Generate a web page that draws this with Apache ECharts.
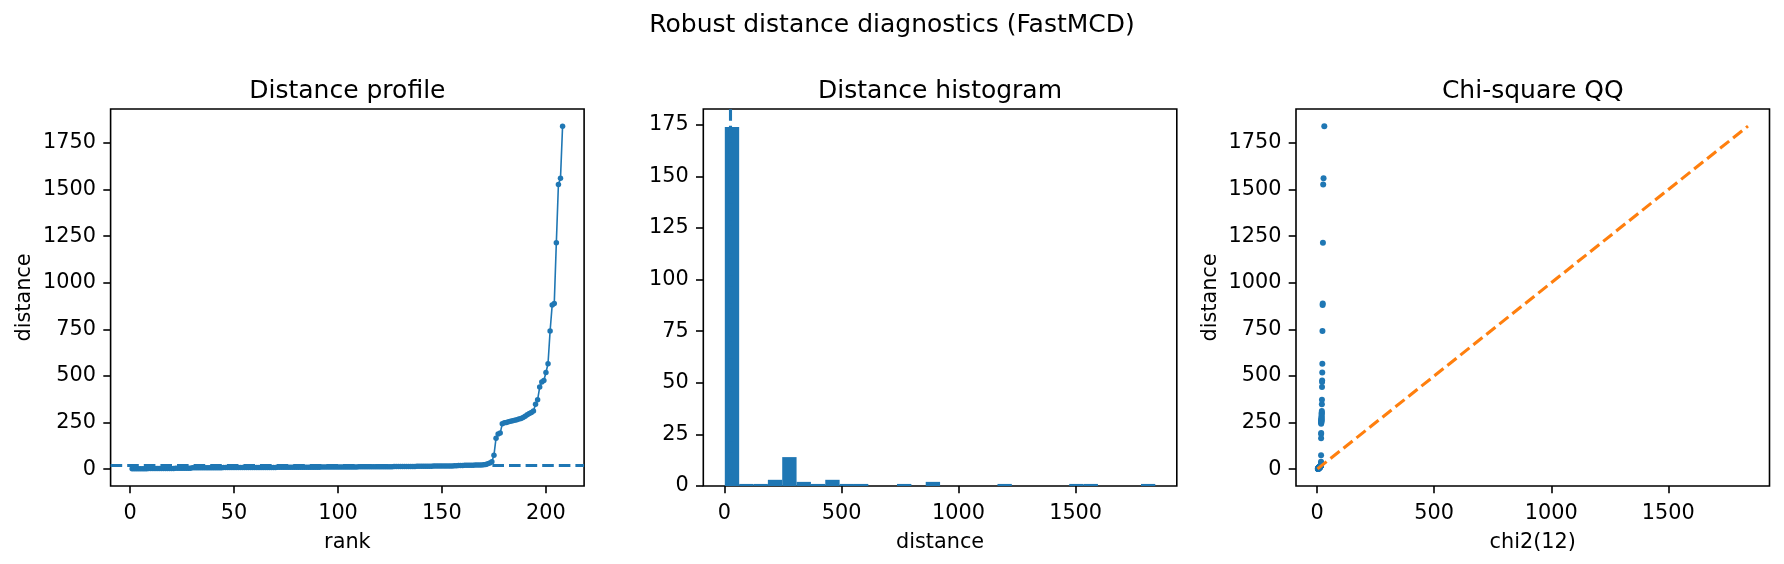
<!DOCTYPE html>
<html>
<head>
<meta charset="utf-8">
<script src="https://cdn.jsdelivr.net/npm/echarts@6/dist/echarts.min.js"></script>
<style>
  html, body { margin: 0; padding: 0; background: #fff; }
  #chart { width: 1784px; height: 564px; }
</style>
</head>
<body>
<div id="chart"></div>
<script>
// sorted robust distances (FastMCD), one per rank
const distances = [
  1.5, 1.8, 2.0, 2.2, 2.3, 2.5, 2.6, 2.8, 2.9, 3.0,
  3.1, 3.2, 3.3, 3.4, 3.5, 3.6, 3.7, 3.8, 3.9, 4.0,
  4.1, 4.2, 4.3, 4.4, 4.5, 4.7, 4.8, 5.0, 5.2,
  7.4, 7.5, 7.5, 7.6, 7.6, 7.7, 7.7, 7.8, 7.8, 7.9,
  7.9, 8.0, 8.0, 8.1, 8.1, 8.2, 8.2, 8.3, 8.3, 8.4,
  8.4, 8.5, 8.5, 8.6, 8.6, 8.7, 8.8, 8.8, 8.9, 8.9,
  9.0, 9.0, 9.1, 9.1, 9.2, 9.3, 9.3, 9.4, 9.4, 9.5,
  9.5, 9.6, 9.7, 9.7, 9.8, 9.8, 9.9, 10.0, 10.0, 10.1,
  10.1, 10.2, 10.3, 10.3, 10.4, 10.4, 10.5, 10.6, 10.6, 10.7,
  10.7, 10.8, 10.9, 10.9, 11.0, 11.0, 11.1, 11.2, 11.2, 11.3,
  11.3, 11.4, 11.4, 11.5, 11.5, 11.6,
  12.0, 12.1, 12.2, 12.2, 12.3, 12.4, 12.5, 12.5, 12.6, 12.7,
  12.8, 12.8, 12.9, 13.0, 13.1, 13.1, 13.2, 13.3, 13.4, 13.4,
  13.5, 13.6, 13.7, 13.7, 13.8, 13.9, 14.0, 14.1, 14.1, 14.2,
  14.3, 14.5,
  15.2, 15.3, 15.5, 15.6, 15.7, 15.9, 16.0, 16.1, 16.3, 16.4,
  16.5, 16.7, 16.8, 16.9, 17.0, 17.2, 17.3, 17.4, 17.6, 17.8,
  19.5, 19.8, 20.1, 20.4, 20.6, 20.9, 21.2, 21.5, 21.8, 22.1,
  22.4, 22.8, 23.3,
  25.6, 28.4, 32.5, 39.8,
  75.2, 166.4, 188.7, 193.5, 243.1, 248.6, 250.9, 253.7, 256.4, 259.8,
  262.5, 265.3, 268.9, 272.4, 276.8, 284.1, 291.6, 298.2, 303.7, 312.5,
  348.1, 372.4, 440.6, 468.2, 475.3, 518.4, 565.7, 740.9, 880.3, 888.6,
  1215.2, 1527.4, 1560.8, 1840.3
];

// theoretical chi2(12) quantiles, same order as distances
const chi2Quantiles = [
  2.6, 3.3, 3.7, 4.0, 4.2, 4.4, 4.6, 4.8, 5.0, 5.1,
  5.2, 5.4, 5.5, 5.6, 5.7, 5.8, 5.9, 6.0, 6.1, 6.2,
  6.3, 6.4, 6.5, 6.5, 6.6, 6.7, 6.8, 6.9, 6.9, 7.0,
  7.1, 7.1, 7.2, 7.3, 7.4, 7.4, 7.5, 7.6, 7.6, 7.7,
  7.8, 7.8, 7.9, 7.9, 8.0, 8.1, 8.1, 8.2, 8.2, 8.3,
  8.4, 8.4, 8.5, 8.5, 8.6, 8.7, 8.7, 8.8, 8.8, 8.9,
  8.9, 9.0, 9.1, 9.1, 9.2, 9.2, 9.3, 9.3, 9.4, 9.4,
  9.5, 9.6, 9.6, 9.7, 9.7, 9.8, 9.8, 9.9, 9.9, 10.0,
  10.0, 10.1, 10.2, 10.2, 10.3, 10.3, 10.4, 10.4, 10.5, 10.5,
  10.6, 10.6, 10.7, 10.8, 10.8, 10.9, 10.9, 11.0, 11.0, 11.1,
  11.2, 11.2, 11.3, 11.3, 11.4, 11.4, 11.5, 11.5, 11.6, 11.7,
  11.7, 11.8, 11.8, 11.9, 12.0, 12.0, 12.1, 12.1, 12.2, 12.3,
  12.3, 12.4, 12.4, 12.5, 12.6, 12.6, 12.7, 12.8, 12.8, 12.9,
  13.0, 13.0, 13.1, 13.2, 13.2, 13.3, 13.4, 13.4, 13.5, 13.6,
  13.6, 13.7, 13.8, 13.9, 13.9, 14.0, 14.1, 14.2, 14.2, 14.3,
  14.4, 14.5, 14.5, 14.6, 14.7, 14.8, 14.9, 15.0, 15.1, 15.1,
  15.2, 15.3, 15.4, 15.5, 15.6, 15.7, 15.8, 15.9, 16.0, 16.1,
  16.2, 16.3, 16.5, 16.6, 16.7, 16.8, 16.9, 17.1, 17.2, 17.3,
  17.5, 17.6, 17.8, 17.9, 18.1, 18.2, 18.4, 18.6, 18.8, 19.0,
  19.2, 19.4, 19.6, 19.9, 20.1, 20.4, 20.7, 21.0, 21.3, 21.7,
  22.1, 22.6, 23.2, 23.8, 24.6, 25.7, 27.3, 30.5
];

const threshold = 23.34;

// histogram, 30 bins
const binEdges = [
  1.5, 62.8, 124.1, 185.4, 246.7, 308.0, 369.3, 430.6, 491.9, 553.2,
  614.5, 675.8, 737.1, 798.4, 859.7, 921.0, 982.3, 1043.6, 1104.9, 1166.2,
  1227.5, 1288.8, 1350.1, 1411.4, 1472.7, 1534.0, 1595.3, 1656.6, 1717.9, 1779.2,
  1840.3
];
const binCounts = [
  174, 1, 1, 3, 14, 2, 1, 3, 1, 1,
  0, 0, 1, 0, 2, 0, 0, 0, 0, 1,
  0, 0, 0, 0, 1, 1, 0, 0, 0, 1
];

const qqLine = [1.5, 1840.3];

const rankTicks = [0, 50, 100, 150, 200];
const distanceTicks = [0, 250, 500, 750, 1000, 1250, 1500, 1750];
const countTicks = [0, 25, 50, 75, 100, 125, 150, 175];
const histTicks = [0, 500, 1000, 1500];
const qqTicks = [0, 500, 1000, 1500];

const C0 = '#1f77b4';
const C1 = '#ff7f0e';
const FONT = 'DejaVu Sans';
const dash = [11.6, 5];

const grids = [110.6, 703.3, 1296].map(left => ({
  left: left, top: 109, width: 473.5, height: 377,
  show: true, borderColor: '#000', borderWidth: 1.6, backgroundColor: 'transparent'
}));

function axis(gridIndex, min, max, ticks, name, isY) {
  return {
    type: 'value',
    gridIndex: gridIndex,
    min: min,
    max: max,
    name: name,
    nameLocation: 'middle',
    nameGap: isY ? 75 : 46,
    nameRotate: isY ? 90 : 0,
    nameTextStyle: { fontFamily: FONT, fontSize: 20.8, color: '#000' },
    axisLine: { show: false, onZero: false },
    axisTick: { show: true, customValues: ticks, length: 7.3, lineStyle: { color: '#000', width: 1.6 } },
    axisLabel: {
      customValues: ticks, margin: isY ? 14.6 : 17,
      fontFamily: FONT, fontSize: 20.8, color: '#000',
      formatter: v => String(v)
    },
    splitLine: { show: false }
  };
}

function panelTitle(text, cx) {
  return {
    text: text, left: cx, top: 79, textAlign: 'center', padding: 0,
    textStyle: { fontFamily: FONT, fontSize: 25, fontWeight: 'normal', color: '#000' }
  };
}

const chart = echarts.init(document.getElementById('chart'));

chart.setOption({
  animation: false,
  backgroundColor: '#fff',
  title: [
    {
      text: 'Robust distance diagnostics (FastMCD)', left: 892, top: 13, textAlign: 'center', padding: 0,
      textStyle: { fontFamily: FONT, fontSize: 25, fontWeight: 'normal', color: '#000' }
    },
    panelTitle('Distance profile', 110.6 + 473.5 / 2),
    panelTitle('Distance histogram', 703.3 + 473.5 / 2),
    panelTitle('Chi-square QQ', 1296 + 473.5 / 2)
  ],
  grid: grids,
  xAxis: [
    axis(0, -9.35, 218.35, rankTicks, 'rank', false),
    axis(1, -90.4, 1932.2, histTicks, 'distance', false),
    axis(2, -90.4, 1932.2, qqTicks, 'chi2(12)', false)
  ],
  yAxis: [
    axis(0, -90.4, 1932.2, distanceTicks, 'distance', true),
    axis(1, 0, 182.7, countTicks, '', true),
    axis(2, -90.4, 1932.2, distanceTicks, 'distance', true)
  ],
  series: [
    {
      type: 'line',
      xAxisIndex: 0, yAxisIndex: 0,
      data: distances.map((d, i) => [i + 1, d]),
      symbol: 'circle', symbolSize: 5.5, showSymbol: true,
      itemStyle: { color: C0 },
      lineStyle: { color: C0, width: 1.6 },
      markLine: {
        silent: true, symbol: 'none', label: { show: false },
        lineStyle: { color: C0, width: 3.1, type: dash },
        data: [{ yAxis: threshold }]
      }
    },
    {
      type: 'custom',
      xAxisIndex: 1, yAxisIndex: 1,
      data: binCounts.map((c, i) => [binEdges[i], binEdges[i + 1], c]),
      encode: { x: [0, 1], y: 2 },
      renderItem: function (params, api) {
        const p0 = api.coord([api.value(0), 0]);
        const p1 = api.coord([api.value(1), api.value(2)]);
        return {
          type: 'rect',
          shape: { x: p0[0], y: p1[1], width: p1[0] - p0[0], height: p0[1] - p1[1] },
          style: { fill: C0 }
        };
      },
      markLine: {
        silent: true, symbol: 'none', label: { show: false },
        lineStyle: { color: C0, width: 3.1, type: dash },
        data: [{ xAxis: threshold }]
      }
    },
    {
      type: 'scatter',
      xAxisIndex: 2, yAxisIndex: 2,
      data: distances.map((d, i) => [chi2Quantiles[i], d]),
      symbolSize: 6,
      itemStyle: { color: C0, opacity: 1 }
    },
    {
      type: 'line',
      xAxisIndex: 2, yAxisIndex: 2,
      data: [[qqLine[0], qqLine[0]], [qqLine[1], qqLine[1]]],
      showSymbol: false, symbol: 'none',
      lineStyle: { color: C1, width: 3.1, type: dash },
      z: 5
    }
  ]
});
</script>
</body>
</html>
